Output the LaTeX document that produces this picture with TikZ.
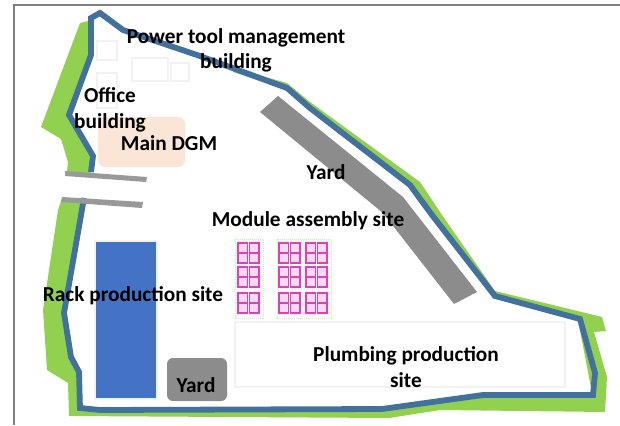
\documentclass[tikz,border=0pt]{standalone}
\usepackage{fontspec}
\setmainfont{Carlito}
\definecolor{grn}{HTML}{92D050}
\definecolor{wall}{HTML}{41719C}
\definecolor{yardg}{HTML}{8C8C8C}
\definecolor{barg}{HTML}{999999}
\definecolor{faint}{HTML}{F2F2F2}
\definecolor{rack}{HTML}{4472C4}
\definecolor{peach}{HTML}{FBE5D6}
\definecolor{mag}{HTML}{D944B4}
\tikzset{
  x=1pt,y=-1pt,
  lbl/.style={font=\fontsize{21.3}{25.5}\selectfont\bfseries,align=center,text=black,inner sep=0pt},
  wallline/.style={draw=wall,line width=5.8pt,line join=miter},
  faintbox/.style={draw=faint,line width=2pt},
  bar/.style={fill=barg,draw=none},
  pane/.style={draw=mag,line width=1.3pt,fill=mag!20},
  blockbg/.style={draw=green!30!white,line width=1pt,densely dotted,fill=mag!6},
}
\newcommand{\moduleunit}[2]{%
  \foreach \c in {0,11.5}{\foreach \r in {0,10}{
    \draw[pane] (#1+\c,#2+\r) rectangle ++(9.5,10);}}
}
\begin{document}
\begin{tikzpicture}
\useasboundingbox (0,0) rectangle (620,425);
\fill[white] (0,0) rectangle (620,425);
% frame
\draw[gray,line width=2pt] (14,425) -- (14,5) -- (620,5);
% green belt
\fill[grn] (80,23) -- (41,127) -- (61,139) -- (68,162) -- (67,172) -- (91,174) -- (95,156) -- (72,115) -- (93,55) -- (93,20) -- (80,23);
\fill[grn] (62,198) -- (58,210) -- (43,310) -- (47,370) -- (68,383) -- (69,416) -- (389,418) -- (440,410) -- (605,412) -- (607,377) -- (594,332) -- (606,331) -- (602,317) -- (495,291) -- (442,215) -- (420,182) -- (310,102) -- (287,83) -- (233,68) -- (233,72) -- (287,90) -- (410,187) -- (493,298) -- (578,320) -- (592,393) -- (483,394) -- (382,408) -- (82,408) -- (81,372) -- (73,357) -- (66,313) -- (86,198) -- cycle;
% faint building outlines
\draw[faintbox] (97,41) rectangle (117,60);
\draw[faintbox] (97,73) rectangle (117,108);
\draw[faintbox] (132,58) rectangle (168,81);
\draw[faintbox] (171,63) rectangle (189,81);
% perimeter wall
\draw[wallline] (91,172) -- (93,156) -- (69,115) -- (91,55) -- (91,18) -- (100,13) -- (123,30) -- (197,55) -- (287,88) -- (310,108) -- (410,185) -- (432,215) -- (495,296) -- (580,319) -- (595,373) -- (593,395) -- (483,395) -- (382,409) -- (100,410) -- (80,408) -- (79,372) -- (71,357) -- (64,313) -- (84,198);
% main DGM
\fill[peach,rounded corners=7pt] (98,117) rectangle (185,167);
% gate bars
\fill[bar] (65,171) -- (147,177) -- (146,182) -- (65,176) -- cycle;
\fill[bar] (62,197) -- (143,202) -- (142,208) -- (61,202) -- cycle;
% long yard
\fill[yardg] (278,96) -- (403,197) -- (477,292) -- (454,304) -- (383,213) -- (260,112) -- cycle;
% rack
\draw[faint,line width=2pt,fill=rack] (95,241) rectangle (157,399);
% small yard
\fill[yardg,rounded corners=6pt] (167,358) rectangle (227,401);
% plumbing site
\draw[faintbox] (235,322) rectangle (565,387);
% module grids
\draw[blockbg] (235,239) rectangle (263,318);
\draw[blockbg] (277,239) rectangle (331,318);
\foreach \x in {238,279,306}{\foreach \y in {243,267,293}{\moduleunit{\x}{\y}}}
% labels
\node[lbl] (power) at (236,50.5) {Power tool management\\building};
\node[lbl] (office) at (110,110) {Office\\building};
\node[lbl] (dgm) at (169,143) {Main DGM};
\node[lbl] (yarda) at (326,172) {Yard};
\node[lbl] (module) at (308,221) {Module assembly site};
\node[lbl] (rackl) at (133,296) {Rack production site};
\node[lbl] (yardb) at (196,385) {Yard};
\node[lbl] (plumb) at (406,367) {Plumbing production\\site};
\end{tikzpicture}
\end{document}
